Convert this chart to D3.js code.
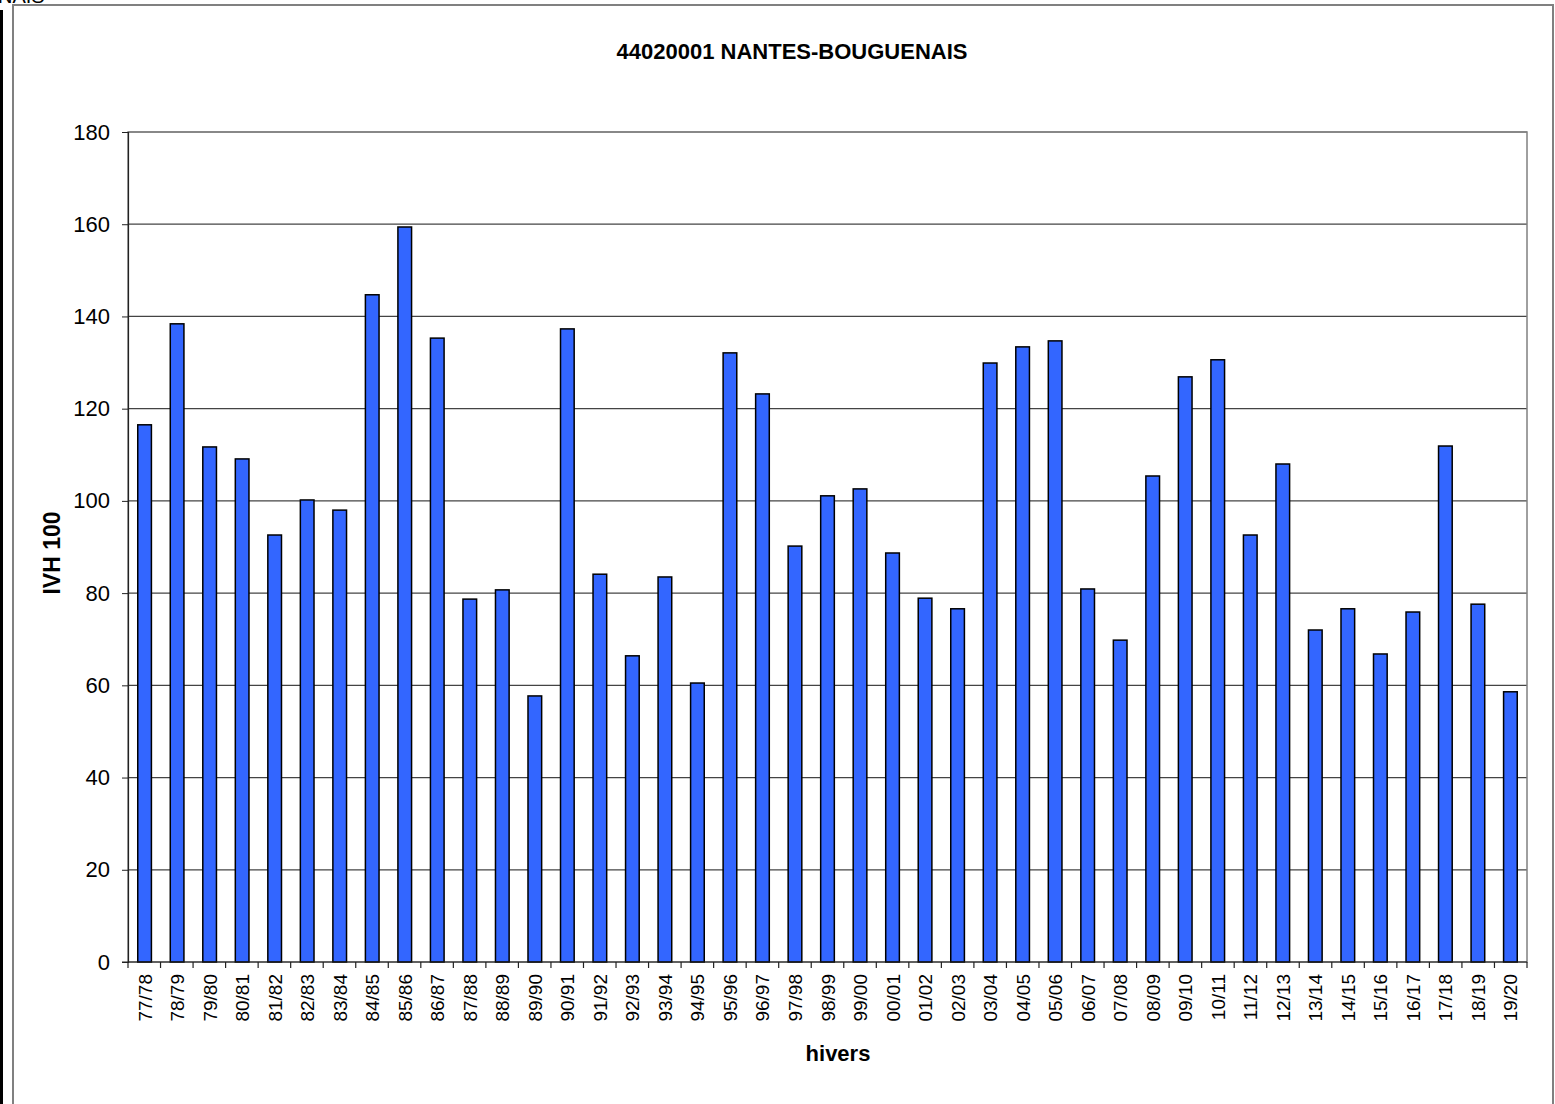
<!DOCTYPE html>
<html lang="fr">
<head>
  <meta charset="utf-8">
  <script src="https://cdn.jsdelivr.net/npm/d3@7"></script>
  <title>44020001 NANTES-BOUGUENAIS</title>
  <style>
    body { margin: 0; background: #fff; }
    text { font-family: "Liberation Sans", Arial, sans-serif; }
  </style>
</head>
<body>
<div id="chart"></div>
<script>
  var width = 1555, height = 1104;

  // hivers (categories)
  var winters = ["77/78", "78/79", "79/80", "80/81", "81/82", "82/83", "83/84", "84/85", "85/86", "86/87",
    "87/88", "88/89", "89/90", "90/91", "91/92", "92/93", "93/94", "94/95", "95/96", "96/97",
    "97/98", "98/99", "99/00", "00/01", "01/02", "02/03", "03/04", "04/05", "05/06", "06/07",
    "07/08", "08/09", "09/10", "10/11", "11/12", "12/13", "13/14", "14/15", "15/16", "16/17",
    "17/18", "18/19", "19/20"];

  // IVH 100 values
  var ivh = [116.5, 138.4, 111.7, 109.1, 92.6, 100.2, 98.0, 144.7, 159.4, 135.3,
    78.7, 80.7, 57.7, 137.3, 84.1, 66.4, 83.5, 60.5, 132.1, 123.2,
    90.2, 101.1, 102.6, 88.7, 78.9, 76.6, 129.9, 133.4, 134.7, 80.9,
    69.8, 105.4, 126.9, 130.6, 92.6, 108.0, 72.0, 76.6, 66.8, 75.9,
    111.9, 77.6, 58.6];

  var yTicks = [0, 20, 40, 60, 80, 100, 120, 140, 160, 180];

  var margin = { left: 128, right: 1527, top: 132, bottom: 962 };

  var svg = d3.select("#chart").append("svg")
    .attr("width", width).attr("height", height);

  // cadre extérieur
  svg.append("rect")
    .attr("x", 13).attr("y", 5)
    .attr("width", 1540).attr("height", 1110)
    .attr("fill", "none").attr("stroke", "#808080").attr("stroke-width", 2);

  // reste d'un graphique voisin, coupé par le bord
  svg.append("rect").attr("x", 0).attr("y", 10).attr("width", 3).attr("height", 1094).attr("fill", "#000");
  svg.append("text").attr("x", -2).attr("y", 3)
    .style("font-size", "20px").text("NAIS");

  var x = d3.scaleBand()
    .domain(winters)
    .range([margin.left, margin.right])
    .paddingInner(0.58).paddingOuter(0.3);

  var y = d3.scaleLinear()
    .domain([0, 180])
    .range([margin.bottom, margin.top]);

  // grille
  svg.append("g").selectAll("line")
    .data(yTicks.slice(1))
    .enter().append("line")
    .attr("x1", margin.left).attr("x2", margin.right)
    .attr("y1", function (d) { return y(d); })
    .attr("y2", function (d) { return y(d); })
    .attr("stroke", "#444").attr("stroke-width", 1.2);

  // bordure zone de tracé
  svg.append("rect")
    .attr("x", margin.left).attr("y", margin.top)
    .attr("width", margin.right - margin.left).attr("height", margin.bottom - margin.top)
    .attr("fill", "none").attr("stroke", "#808080").attr("stroke-width", 1.5);

  // barres
  svg.append("g").selectAll("rect")
    .data(ivh)
    .enter().append("rect")
    .attr("x", function (d, i) { return x(winters[i]); })
    .attr("y", function (d) { return y(d); })
    .attr("width", x.bandwidth())
    .attr("height", function (d) { return y(0) - y(d); })
    .attr("fill", "#3366FF")
    .attr("stroke", "#000").attr("stroke-width", 1.5);

  // axe Y
  var yAxis = svg.append("g")
    .attr("transform", "translate(" + margin.left + ",0)")
    .call(d3.axisLeft(y).tickValues(yTicks).tickSize(6).tickPadding(12));
  yAxis.select(".domain").attr("stroke", "#222").attr("stroke-width", 1.2);
  yAxis.selectAll(".tick line").attr("stroke", "#222");
  yAxis.selectAll("text").style("font-size", "22px")
    .style("font-family", "'Liberation Sans', Arial, sans-serif").attr("fill", "#000");

  // axe X : graduations aux limites des catégories
  var bounds = d3.range(winters.length + 1);
  var cell = (margin.right - margin.left) / winters.length;
  svg.append("line")
    .attr("x1", margin.left - 6).attr("x2", margin.right)
    .attr("y1", margin.bottom).attr("y2", margin.bottom)
    .attr("stroke", "#222").attr("stroke-width", 1.2);
  svg.append("g").selectAll("line")
    .data(bounds)
    .enter().append("line")
    .attr("x1", function (d) { return margin.left + d * cell; })
    .attr("x2", function (d) { return margin.left + d * cell; })
    .attr("y1", margin.bottom).attr("y2", margin.bottom + 6)
    .attr("stroke", "#222").attr("stroke-width", 1.2);

  svg.append("g").selectAll("text")
    .data(winters)
    .enter().append("text")
    .attr("transform", function (d) {
      var cx = x(d) + x.bandwidth() / 2;
      return "translate(" + (cx + 7) + "," + (margin.bottom + 12) + ") rotate(-90)";
    })
    .attr("text-anchor", "end")
    .style("font-size", "19px")
    .text(function (d) { return d; });

  // titres
  svg.append("text")
    .attr("x", 792).attr("y", 59)
    .attr("text-anchor", "middle")
    .style("font-size", "22px").style("font-weight", "bold")
    .text("44020001 NANTES-BOUGUENAIS");

  svg.append("text")
    .attr("x", 838).attr("y", 1061)
    .attr("text-anchor", "middle")
    .style("font-size", "22px").style("font-weight", "bold")
    .text("hivers");

  svg.append("text")
    .attr("transform", "translate(60,553) rotate(-90)")
    .attr("text-anchor", "middle")
    .style("font-size", "23px").style("font-weight", "bold")
    .text("IVH 100");
</script>
</body>
</html>
